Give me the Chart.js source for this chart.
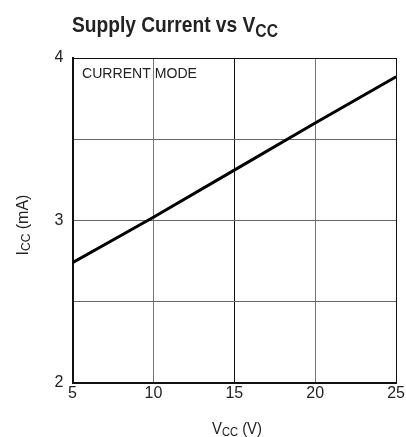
<!DOCTYPE html>
<html>
<head>
<meta charset="utf-8">
<script src="https://cdn.jsdelivr.net/npm/chart.js@4.4.0/dist/chart.umd.min.js"></script>
<style>
  html, body { margin: 0; padding: 0; background: #fff; }
  #wrap { width: 406px; height: 437px; }
</style>
</head>
<body>
<div id="wrap"><canvas id="chart" width="406" height="437"></canvas></div>
<script>
// supply current vs supply voltage
const vccVolts = [5, 10, 15, 20, 25];
const iccMilliamps = [2.74, 3.02, 3.31, 3.60, 3.885];

// axis ticks (gridlines every 0.5 mA, labels only on whole mA)
const xTickValues = [5, 10, 15, 20, 25];
const yTickValues = [2, 2.5, 3, 3.5, 4];
const yTickLabels = ['2', '', '3', '', '4'];

const FONT = '"Liberation Sans", Arial, sans-serif';

// draw text runs side by side (used for the subscripts)
// fitWidth: squeeze horizontally so the whole run is that wide (narrow look)
function drawRuns(ctx, runs, x, y, align, fitWidth) {
    let total = 0;
    runs.forEach(r => {
        ctx.font = r.font;
        r.w = ctx.measureText(r.text).width;
        total += r.w;
    });
    const squeeze = fitWidth ? Math.min(1, fitWidth / total) : 1;
    let cx = align === 'center' ? x - total * squeeze / 2 : x;
    runs.forEach(r => {
        ctx.save();
        ctx.font = r.font;
        ctx.translate(cx, y + (r.dy || 0));
        ctx.scale(squeeze, 1);
        ctx.fillText(r.text, 0, 0);
        ctx.restore();
        cx += r.w * squeeze;
    });
}

const textPlugin = {
    id: 'datasheetText',
    afterDraw(chart) {
        const ctx = chart.ctx;
        ctx.save();
        ctx.fillStyle = '#222';
        ctx.textBaseline = 'alphabetic';
        ctx.textAlign = 'left';

        // title
        drawRuns(ctx, [
            { text: 'Supply Current vs V', font: 'bold 22px ' + FONT },
            { text: 'CC', font: 'bold 18px ' + FONT, dy: 5 }
        ], 72, 32, 'left', 206);

        // note inside the plot
        drawRuns(ctx, [{ text: 'CURRENT MODE', font: '15px ' + FONT }], 82, 78, 'left', 115);

        // x axis title
        drawRuns(ctx, [
            { text: 'V', font: '16px ' + FONT },
            { text: 'CC', font: '12px ' + FONT, dy: 1.5 },
            { text: ' (V)', font: '16px ' + FONT }
        ], 237, 434, 'center', 50);

        // y axis title, rotated
        ctx.translate(28, 225);
        ctx.rotate(-Math.PI / 2);
        drawRuns(ctx, [
            { text: 'I', font: '16px ' + FONT },
            { text: 'CC', font: '12px ' + FONT, dy: 1.5 },
            { text: ' (mA)', font: '16px ' + FONT }
        ], 0, 0, 'center', 0);
        ctx.restore();
    }
};

const ctx = document.getElementById('chart').getContext('2d');
new Chart(ctx, {
    type: 'line',
    data: {
        datasets: [{
            data: vccVolts.map((v, i) => ({ x: v, y: iccMilliamps[i] })),
            borderColor: '#000',
            borderWidth: 3,
            pointRadius: 0,
            tension: 0
        }]
    },
    options: {
        responsive: false,
        animation: false,
        devicePixelRatio: 1,
        layout: { padding: { left: 0, top: 58, right: 8, bottom: 0 } },
        plugins: {
            legend: { display: false },
            tooltip: { enabled: false }
        },
        scales: {
            x: {
                type: 'linear',
                min: 5,
                max: 25,
                afterBuildTicks: scale => { scale.ticks = xTickValues.map(v => ({ value: v })); },
                afterFit: scale => { scale.height = 54; },
                ticks: {
                    padding: 1,
                    color: '#222',
                    font: { family: FONT, size: 16 },
                    maxRotation: 0,
                    autoSkip: false
                },
                grid: {
                    drawTicks: false,
                    lineWidth: 1,
                    color: c => (c.tick && (c.tick.value === 15 || c.tick.value === 25)) ? '#111' : '#777'
                },
                border: { color: '#111', width: 2 }
            },
            y: {
                type: 'linear',
                min: 2,
                max: 4,
                afterBuildTicks: scale => { scale.ticks = yTickValues.map(v => ({ value: v })); },
                afterFit: scale => { scale.width = 72.5; },
                ticks: {
                    padding: 9,
                    color: '#222',
                    font: { family: FONT, size: 16 },
                    autoSkip: false,
                    callback: (val, idx) => yTickLabels[idx]
                },
                grid: {
                    drawTicks: false,
                    lineWidth: 1,
                    color: c => (c.tick && c.tick.value === 4) ? '#111' : '#666'
                },
                border: { color: '#111', width: 2 }
            }
        }
    },
    plugins: [textPlugin]
});
</script>
</body>
</html>
